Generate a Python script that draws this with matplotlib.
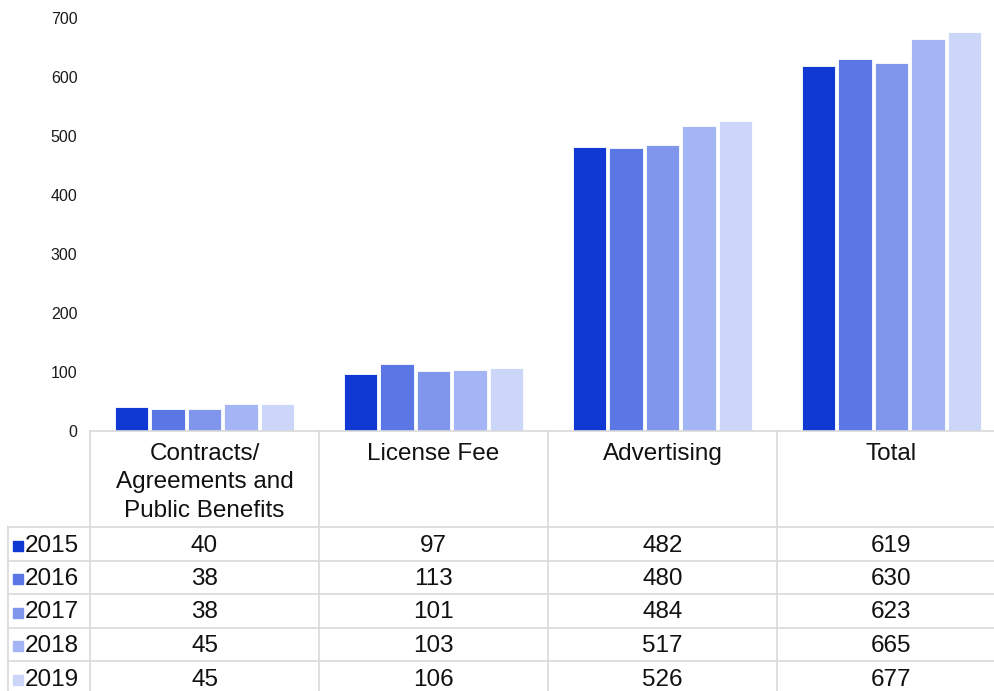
import numpy as np
import matplotlib.pyplot as plt
from matplotlib.patches import Rectangle

plt.rcParams['font.family'] = ['Liberation Sans', 'DejaVu Sans']

categories = ["Contracts/\nAgreements and\nPublic Benefits", "License Fee", "Advertising", "Total"]
years = ["2015", "2016", "2017", "2018", "2019"]
values = {
	"2015": [40, 97, 482, 619],
	"2016": [38, 113, 480, 630],
	"2017": [38, 101, 484, 623],
	"2018": [45, 103, 517, 665],
	"2019": [45, 106, 526, 677],
}
colors = ["#1039d4", "#5b77e5", "#7f96ec", "#a3b5f4", "#cbd6f8"]
yticks = [0, 100, 200, 300, 400, 500, 600, 700]

W, H = 995, 691
fig = plt.figure(figsize=(W / 100, H / 100), dpi=100)

# chart area in pixels: x 90..1006, y 18..431 (0..700)
x0, x1 = 90, 1006
ytop, ybot = 18, 431
ax = fig.add_axes([x0 / W, (H - ybot) / H, (x1 - x0) / W, (ybot - ytop) / H])
ax.set_xlim(-0.5, len(categories) - 0.5)
ax.set_ylim(0, 700)

x = np.arange(len(categories))
pitch = 0.159
bw = 0.146
for i, yr in enumerate(years):
	ax.bar(x + (i - 2) * pitch, values[yr], bw, color=colors[i], edgecolor='white', linewidth=0.6, zorder=2)

ax.set_yticks(yticks)
ax.set_yticklabels([str(t) for t in yticks], fontsize=11.5, color='#1a1a1a')
ax.set_xticks([])
ax.tick_params(axis='y', length=0, pad=9)
for s in ax.spines.values():
	s.set_visible(False)
ax.set_facecolor('none')

# table drawn on an overlay in pixel coords
tb = fig.add_axes([0, 0, 1, 1])
tb.set_xlim(0, W)
tb.set_ylim(H, 0)
tb.axis('off')
tb.set_facecolor('none')

lc = '#d9d9d9'
col_w = (x1 - x0) / len(categories)
col_edges = [x0 + k * col_w for k in range(len(categories) + 1)]
row_edges = [527, 561, 594, 628, 661, 695]

tb.plot([x0, x1], [ybot, ybot], color=lc, lw=1.2)
for ry in row_edges:
	tb.plot([8, x1], [ry, ry], color=lc, lw=1.2)
tb.plot([x0, x0], [ybot, H], color=lc, lw=1.2)
for cx in col_edges[1:]:
	tb.plot([cx, cx], [ybot, H], color=lc, lw=1.2)
tb.plot([8, 8], [row_edges[0], H], color=lc, lw=1.2)

for k, cat in enumerate(categories):
	cx = col_edges[k] + col_w / 2
	tb.text(cx, 443, cat, ha='center', va='top', fontsize=17.5, linespacing=1.37, color='#111111')

for r, yr in enumerate(years):
	cy = (row_edges[r] + row_edges[r + 1]) / 2 + 1.5
	tb.add_patch(Rectangle((13, cy - 5), 10, 10, color=colors[r]))
	tb.text(25, cy, yr, ha='left', va='center', fontsize=17.5, color='#111111')
	for k in range(len(categories)):
		cx = col_edges[k] + col_w / 2
		tb.text(cx, cy, str(values[yr][k]), ha='center', va='center', fontsize=17.5, color='#111111')

fig.savefig('out.png', dpi=100)
